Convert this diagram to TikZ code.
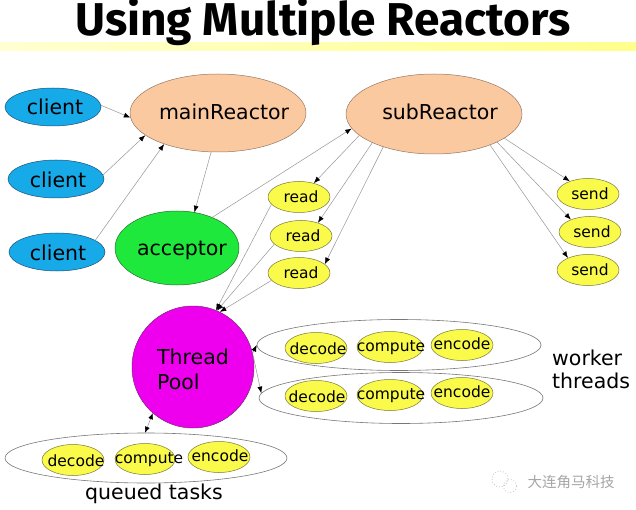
\documentclass[tikz,border=0pt]{standalone}
\usepackage{fontspec}
\setmainfont{DejaVu Sans}
\newfontfamily\titlefont{Fira Sans}
\newfontfamily\cjkfont{Noto Sans CJK SC}
\usetikzlibrary{shapes.geometric,arrows.meta}
\definecolor{clientblue}{RGB}{22,170,232}
\definecolor{clientedge}{RGB}{30,80,120}
\definecolor{peach}{RGB}{251,201,160}
\definecolor{peachedge}{RGB}{150,120,100}
\definecolor{accgreen}{RGB}{30,232,60}
\definecolor{accedge}{RGB}{40,110,40}
\definecolor{taskyellow}{RGB}{250,250,75}
\definecolor{yellowedge}{RGB}{120,120,60}
\definecolor{poolmag}{RGB}{238,0,238}
\definecolor{pooledge}{RGB}{120,40,120}
\definecolor{linegray}{RGB}{150,150,150}
\tikzset{
  ell/.style={ellipse, inner sep=0pt, line width=0.5pt},
  clientnode/.style={ell, fill=clientblue, draw=clientedge, minimum width=96pt, minimum height=38pt},
  reactor/.style={ell, fill=peach, draw=peachedge, minimum width=176pt, minimum height=78pt},
  accnode/.style={ell, fill=accgreen, draw=accedge, minimum width=124pt, minimum height=74pt},
  smallnode/.style={ell, fill=taskyellow, draw=yellowedge, minimum width=62pt, minimum height=31pt},
  tasknode/.style={ell, fill=taskyellow, draw=yellowedge, minimum height=31pt},
  group/.style={ell, draw=linegray!80!black, line width=0.6pt, minimum width=284pt, minimum height=51pt},
  bigtxt/.style={inner sep=0pt, font=\fontsize{20.5}{24}\selectfont},
  smalltxt/.style={inner sep=0pt, font=\fontsize{15.5}{18}\selectfont},
  conn/.style={draw=linegray, line width=0.5pt, -{Latex[color=black,length=6.5pt,width=5pt]}},
}
\begin{document}
\begin{tikzpicture}[x=1pt,y=-1pt]
\useasboundingbox (0,0) rectangle (636,510);
\fill[white] (0,0) rectangle (636,510);
% title band
\shade[left color=yellow!18, right color=yellow!45, draw=none] (0,43) rectangle (636,51);
\node[inner sep=0pt, font=\titlefont\bfseries\fontsize{46}{50}\selectfont] (title) at (323,22) {Using Multiple Reactors};

% clients
\node[clientnode] (c1) at (53,107) {};
\node[bigtxt] (c1t) at (55,107) {client};
\node[clientnode] (c2) at (56,179) {};
\node[bigtxt] (c2t) at (58,180) {client};
\node[clientnode] (c3) at (57,252) {};
\node[bigtxt] (c3t) at (58,253) {client};

% reactors
\node[reactor] (main) at (218,113) {};
\node[bigtxt] (maint) at (224,112) {mainReactor};
\node[reactor, minimum height=80pt] (sub) at (434,114) {};
\node[bigtxt] (subt) at (440,112) {subReactor};
\node[accnode] (acc) at (177,248) {};
\node[bigtxt] (acct) at (182,250) {acceptor};

% read / send
\node[smallnode] (r1) at (299,197) {};
\node[smalltxt] (r1t) at (301,197) {read};
\node[smallnode] (r2) at (301,236) {};
\node[smalltxt] (r2t) at (303,236) {read};
\node[smallnode] (r3) at (299,273) {};
\node[smalltxt] (r3t) at (301,273) {read};
\node[smallnode] (s1) at (588,194) {};
\node[smalltxt] (s1t) at (590,194) {send};
\node[smallnode] (s2) at (590,232) {};
\node[smalltxt] (s2t) at (592,232) {send};
\node[smallnode] (s3) at (588,270) {};
\node[smalltxt] (s3t) at (590,270) {send};

% thread pool
\node[circle, fill=poolmag, draw=pooledge, line width=0.5pt, minimum size=122pt, inner sep=0pt] (tp) at (193,367) {};
\node[bigtxt, anchor=west, align=left, font=\fontsize{20.5}{25}\selectfont] (tpt) at (157,369) {Thread\\Pool};

% worker groups
\node[group] (g1) at (399,345) {};
\node[tasknode, minimum width=62pt] (g1a) at (316,348) {};
\node[smalltxt] (g1at) at (318,349) {decode};
\node[tasknode, minimum width=66pt] (g1b) at (390,347) {};
\node[smalltxt] (g1bt) at (391,348) {compute};
\node[tasknode, minimum width=62pt] (g1c) at (462,345) {};
\node[smalltxt] (g1ct) at (462,344) {encode};

\node[group] (g2) at (401,398) {};
\node[tasknode, minimum width=62pt] (g2a) at (316,396) {};
\node[smalltxt] (g2at) at (317,397) {decode};
\node[tasknode, minimum width=66pt] (g2b) at (390,395) {};
\node[smalltxt] (g2bt) at (391,396) {compute};
\node[tasknode, minimum width=62pt] (g2c) at (462,393) {};
\node[smalltxt] (g2ct) at (462,392) {encode};

\node[bigtxt, anchor=west, align=left, font=\fontsize{20.5}{23}\selectfont] (wt) at (552,369) {worker\\threads};

% queued tasks
\node[group, minimum width=282pt, minimum height=50pt] (q) at (146,458) {};
\node[tasknode, minimum width=62pt] (qa) at (73,460) {};
\node[smalltxt] (qat) at (76,461) {decode};
\node[tasknode, minimum width=60pt] (qb) at (145,459) {};
\node[smalltxt] (qbt) at (149,460) {compute};
\node[tasknode, minimum width=62pt] (qc) at (219,457) {};
\node[smalltxt] (qct) at (220,456) {encode};
\node[bigtxt] (qt) at (154,494) {queued tasks};

% watermark
\node[circle, draw=gray!45, dotted, thick, minimum size=16pt, inner sep=0pt] (wm1) at (500,479) {};
\node[circle, draw=gray!45, dotted, thick, minimum size=13pt, inner sep=0pt] (wm2) at (510,486) {};
\node[inner sep=0pt, text=gray!70, font=\cjkfont\fontsize{14.5}{16}\selectfont] (wmt) at (571,482) {大连角马科技};

% connectors
\draw[conn] (c1.2) -- (main.183);
\draw[conn] (c2.5) -- (main.197);
\draw[conn] (c3.17) -- (main.210);
\draw[conn] (main.260) -- (acc.64);
\draw[conn] (acc.41) -- (sub.190);
\draw[conn] (sub.196) -- (r1.43);
\draw[conn] (sub.205) -- (r2.38);
\draw[conn] (sub.213) -- (r3.19);
\draw[conn] (sub.341) -- (s1.145);
\draw[conn] (sub.336) -- (s2.147);
\draw[conn] (sub.331) -- (s3.149);
\draw[conn] (r1.195) -- (tp.68);
\draw[conn] (r2.197) -- (tp.67);
\draw[conn] (r3.195) -- (tp.64);
\draw[conn] (tp.13) -- (g1.180);
\draw[conn] (tp.10) -- (g2.178);
\draw[draw=linegray, line width=0.5pt, {Latex[color=black,length=6pt,width=5pt]}-{Latex[color=black,length=6pt,width=5pt]}] (q.92) -- (tp.229);
\end{tikzpicture}
\end{document}
